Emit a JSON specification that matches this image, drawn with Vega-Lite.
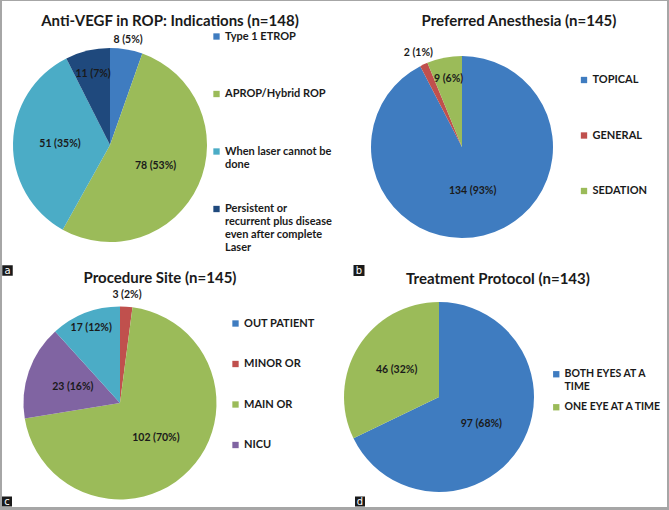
{
  "$schema": "https://vega.github.io/schema/vega-lite/v6.json",
  "background": "#a6a6a6",
  "padding": {"left": 2, "top": 1, "right": 2, "bottom": 3},
  "spacing": 0,
  "resolve": {"scale": {"color": "independent", "theta": "independent"}, "legend": {"color": "independent"}},
  "datasets": {
    "indications": [
      {"category": "Type 1 ETROP", "count": 8, "pct": 5, "label": "8 (5%)", "idx": 1},
      {"category": "APROP/Hybrid ROP", "count": 78, "pct": 53, "label": "78 (53%)", "idx": 2},
      {"category": "When laser cannot be done", "count": 51, "pct": 35, "label": "51 (35%)", "idx": 3},
      {"category": "Persistent or recurrent plus disease even after complete Laser", "count": 11, "pct": 7, "label": "11 (7%)", "idx": 4}
    ],
    "anesthesia": [
      {"category": "TOPICAL", "count": 134, "pct": 93, "label": "134 (93%)", "idx": 1},
      {"category": "GENERAL", "count": 2, "pct": 1, "label": "2 (1%)", "idx": 2},
      {"category": "SEDATION", "count": 9, "pct": 6, "label": "9 (6%)", "idx": 3}
    ],
    "site": [
      {"category": "OUT PATIENT", "count": 0, "pct": 0, "label": "", "idx": 1},
      {"category": "MINOR OR", "count": 3, "pct": 2, "label": "3 (2%)", "idx": 2},
      {"category": "MAIN OR", "count": 102, "pct": 70, "label": "102 (70%)", "idx": 3},
      {"category": "NICU", "count": 23, "pct": 16, "label": "23 (16%)", "idx": 4},
      {"category": "OTHER", "count": 17, "pct": 12, "label": "17 (12%)", "idx": 5}
    ],
    "protocol": [
      {"category": "BOTH EYES AT A TIME", "count": 97, "pct": 68, "label": "97 (68%)", "idx": 1},
      {"category": "ONE EYE AT A TIME", "count": 46, "pct": 32, "label": "46 (32%)", "idx": 2}
    ]
  },
  "vconcat": [
    {
      "hconcat": [
        {
          "width": 350, "height": 258,
          "view": {"fill": "white", "stroke": null},
          "data": {"name": "indications"},
          "title": {"text": "Anti-VEGF in ROP: Indications (n=148)", "offset": -28, "dx": -7, "frame": "group", "anchor": "middle"},
          "layer": [
            {
              "mark": {"type": "arc", "x": 108, "y": 144, "outerRadius": 97},
              "encoding": {
                "theta": {"field": "count", "type": "quantitative", "stack": true},
                "order": {"field": "idx", "type": "quantitative"},
                "color": {
                  "field": "category", "type": "nominal",
                  "scale": {"domain": ["Type 1 ETROP", "APROP/Hybrid ROP", "When laser cannot be done", "Persistent or recurrent plus disease even after complete Laser"], "range": ["#3f7cc0", "#9bbb59", "#4bacc6", "#1f497d"]},
                  "legend": {"orient": "none", "legendX": 209, "legendY": 30, "title": null, "rowPadding": 6.5, "gridAlign": "all",
                    "labelExpr": "datum.label == 'When laser cannot be done' ? ['When laser cannot be', 'done'] : datum.label == 'Persistent or recurrent plus disease even after complete Laser' ? ['Persistent or', 'recurrent plus disease', 'even after complete', 'Laser'] : datum.label"}
                }
              }
            },
            {
              "mark": {"type": "text", "x": 108, "y": 144, "radius": 50},
              "encoding": {
                "theta": {"field": "count", "type": "quantitative", "stack": true},
                "order": {"field": "idx", "type": "quantitative"},
                "detail": {"field": "category", "type": "nominal"},
                "text": {"condition": {"test": "datum.pct >= 15", "field": "label"}, "value": ""}
              }
            },
            {
              "mark": {"type": "text", "x": 108, "y": 144, "radius": 73},
              "encoding": {
                "theta": {"field": "count", "type": "quantitative", "stack": true},
                "order": {"field": "idx", "type": "quantitative"},
                "detail": {"field": "category", "type": "nominal"},
                "text": {"condition": {"test": "datum.pct >= 5.5 && datum.pct < 15", "field": "label"}, "value": ""}
              }
            },
            {
              "mark": {"type": "text", "x": 108, "y": 144, "radius": 107},
              "encoding": {
                "theta": {"field": "count", "type": "quantitative", "stack": true},
                "order": {"field": "idx", "type": "quantitative"},
                "detail": {"field": "category", "type": "nominal"},
                "text": {"condition": {"test": "datum.pct < 5.5 && datum.count > 0", "field": "label"}, "value": ""}
              }
            }
          ]
        },
        {
          "width": 315, "height": 258,
          "view": {"fill": "white", "stroke": null},
          "data": {"name": "anesthesia"},
          "title": {"text": "Preferred Anesthesia (n=145)", "offset": -28, "dx": 9.5, "frame": "group", "anchor": "middle"},
          "layer": [
            {
              "mark": {"type": "arc", "x": 110, "y": 146, "outerRadius": 91},
              "encoding": {
                "theta": {"field": "count", "type": "quantitative", "stack": true},
                "order": {"field": "idx", "type": "quantitative"},
                "color": {
                  "field": "category", "type": "nominal",
                  "scale": {"domain": ["TOPICAL", "GENERAL", "SEDATION"], "range": ["#3f7cc0", "#c0504d", "#9bbb59"]},
                  "legend": {"orient": "none", "legendX": 226.5, "legendY": 73.5, "title": null, "rowPadding": 43.5}
                }
              }
            },
            {
              "mark": {"type": "text", "x": 110, "y": 146, "radius": 45},
              "encoding": {
                "theta": {"field": "count", "type": "quantitative", "stack": true},
                "order": {"field": "idx", "type": "quantitative"},
                "detail": {"field": "category", "type": "nominal"},
                "text": {"condition": {"test": "datum.pct >= 15", "field": "label"}, "value": ""}
              }
            },
            {
              "mark": {"type": "text", "x": 110, "y": 146, "radius": 69},
              "encoding": {
                "theta": {"field": "count", "type": "quantitative", "stack": true},
                "order": {"field": "idx", "type": "quantitative"},
                "detail": {"field": "category", "type": "nominal"},
                "text": {"condition": {"test": "datum.pct >= 5.5 && datum.pct < 15", "field": "label"}, "value": ""}
              }
            },
            {
              "mark": {"type": "text", "x": 110, "y": 146, "radius": 104},
              "encoding": {
                "theta": {"field": "count", "type": "quantitative", "stack": true},
                "order": {"field": "idx", "type": "quantitative"},
                "detail": {"field": "category", "type": "nominal"},
                "text": {"condition": {"test": "datum.pct < 5.5 && datum.count > 0", "field": "label"}, "value": ""}
              }
            }
          ]
        }
      ],
      "spacing": 0,
      "resolve": {"scale": {"color": "independent", "theta": "independent"}, "legend": {"color": "independent"}}
    },
    {
      "hconcat": [
        {
          "width": 340, "height": 248,
          "view": {"fill": "white", "stroke": null},
          "data": {"name": "site"},
          "title": {"text": "Procedure Site (n=145)", "offset": -27, "dx": -12, "frame": "group", "anchor": "middle"},
          "layer": [
            {
              "mark": {"type": "arc", "x": 118, "y": 144, "outerRadius": 96.5},
              "encoding": {
                "theta": {"field": "count", "type": "quantitative", "stack": true},
                "order": {"field": "idx", "type": "quantitative"},
                "color": {
                  "field": "category", "type": "nominal",
                  "scale": {"domain": ["OUT PATIENT", "MINOR OR", "MAIN OR", "NICU", "OTHER"], "range": ["#3f7cc0", "#c0504d", "#9bbb59", "#8064a2", "#4bacc6"]},
                  "legend": {"orient": "none", "legendX": 228, "legendY": 59, "title": null, "rowPadding": 28.5, "values": ["OUT PATIENT", "MINOR OR", "MAIN OR", "NICU"]}
                }
              }
            },
            {
              "mark": {"type": "text", "x": 118, "y": 144, "radius": 50},
              "encoding": {
                "theta": {"field": "count", "type": "quantitative", "stack": true},
                "order": {"field": "idx", "type": "quantitative"},
                "detail": {"field": "category", "type": "nominal"},
                "text": {"condition": {"test": "datum.pct >= 15", "field": "label"}, "value": ""}
              }
            },
            {
              "mark": {"type": "text", "x": 118, "y": 144, "radius": 80},
              "encoding": {
                "theta": {"field": "count", "type": "quantitative", "stack": true},
                "order": {"field": "idx", "type": "quantitative"},
                "detail": {"field": "category", "type": "nominal"},
                "text": {"condition": {"test": "datum.pct >= 5.5 && datum.pct < 15", "field": "label"}, "value": ""}
              }
            },
            {
              "mark": {"type": "text", "x": 118, "y": 144, "radius": 108},
              "encoding": {
                "theta": {"field": "count", "type": "quantitative", "stack": true},
                "order": {"field": "idx", "type": "quantitative"},
                "detail": {"field": "category", "type": "nominal"},
                "text": {"condition": {"test": "datum.pct < 5.5 && datum.count > 0", "field": "label"}, "value": ""}
              }
            },
            {
              "data": {"values": [{"panel": "a"}]},
              "mark": {"type": "point", "shape": "square", "filled": true, "size": 110, "color": "#1a1a1a", "opacity": 1, "x": 5.5, "y": 11.5},
              "encoding": {}
            },
            {
              "data": {"values": [{"panel": "a"}]},
              "mark": {"type": "text", "x": 5.5, "y": 11.5, "color": "white", "fontSize": 10, "fontWeight": "normal", "font": "DejaVu Sans"},
              "encoding": {"text": {"field": "panel", "type": "nominal"}}
            },
            {
              "data": {"values": [{"panel": "c"}]},
              "mark": {"type": "point", "shape": "square", "filled": true, "size": 100, "color": "#1a1a1a", "opacity": 1, "x": 5, "y": 242.5},
              "encoding": {}
            },
            {
              "data": {"values": [{"panel": "c"}]},
              "mark": {"type": "text", "x": 5, "y": 242.5, "color": "white", "fontSize": 10, "fontWeight": "normal", "font": "DejaVu Sans"},
              "encoding": {"text": {"field": "panel", "type": "nominal"}}
            }
          ]
        },
        {
          "width": 325, "height": 248,
          "view": {"fill": "white", "stroke": null},
          "data": {"name": "protocol"},
          "title": {"text": "Treatment Protocol (n=143)", "offset": -28, "dx": -6.5, "frame": "group", "anchor": "middle"},
          "layer": [
            {
              "mark": {"type": "arc", "x": 97, "y": 138, "outerRadius": 95},
              "encoding": {
                "theta": {"field": "count", "type": "quantitative", "stack": true},
                "order": {"field": "idx", "type": "quantitative"},
                "color": {
                  "field": "category", "type": "nominal",
                  "scale": {"domain": ["BOTH EYES AT A TIME", "ONE EYE AT A TIME"], "range": ["#3f7cc0", "#9bbb59"]},
                  "legend": {"orient": "none", "legendX": 209, "legendY": 110, "title": null, "rowPadding": 9, "labelFontSize": 10.5,
                    "labelExpr": "datum.label == 'BOTH EYES AT A TIME' ? ['BOTH EYES AT A', 'TIME'] : datum.label"}
                }
              }
            },
            {
              "mark": {"type": "text", "x": 97, "y": 138, "radius": 50},
              "encoding": {
                "theta": {"field": "count", "type": "quantitative", "stack": true},
                "order": {"field": "idx", "type": "quantitative"},
                "detail": {"field": "category", "type": "nominal"},
                "text": {"field": "label", "type": "nominal"}
              }
            },
            {
              "data": {"values": [{"panel": "b"}]},
              "mark": {"type": "point", "shape": "square", "filled": true, "size": 121, "color": "#1a1a1a", "opacity": 1, "x": 17, "y": 11.5},
              "encoding": {}
            },
            {
              "data": {"values": [{"panel": "b"}]},
              "mark": {"type": "text", "x": 17, "y": 11.5, "color": "white", "fontSize": 10, "fontWeight": "normal", "font": "DejaVu Sans"},
              "encoding": {"text": {"field": "panel", "type": "nominal"}}
            },
            {
              "data": {"values": [{"panel": "d"}]},
              "mark": {"type": "point", "shape": "square", "filled": true, "size": 100, "color": "#1a1a1a", "opacity": 1, "x": 18, "y": 242.5},
              "encoding": {}
            },
            {
              "data": {"values": [{"panel": "d"}]},
              "mark": {"type": "text", "x": 18, "y": 242.5, "color": "white", "fontSize": 10, "fontWeight": "normal", "font": "DejaVu Sans"},
              "encoding": {"text": {"field": "panel", "type": "nominal"}}
            }
          ]
        }
      ],
      "spacing": 0,
      "resolve": {"scale": {"color": "independent", "theta": "independent"}, "legend": {"color": "independent"}}
    }
  ],
  "config": {
    "view": {"stroke": null, "fill": "white"},
    "font": "Lato",
    "title": {"font": "Lato", "fontSize": 15, "fontWeight": "bold", "color": "#1a1a1a"},
    "legend": {"symbolType": "square", "symbolSize": 40, "symbolStrokeWidth": 0, "symbolOpacity": 1, "labelFont": "Lato", "labelFontSize": 11, "labelFontWeight": "bold", "labelColor": "#1a1a1a", "labelLimit": 0, "padding": 0, "labelOffset": 3},
    "text": {"font": "Lato", "fontWeight": "bold", "fontSize": 10.5, "color": "#1a1a1a"}
  }
}
